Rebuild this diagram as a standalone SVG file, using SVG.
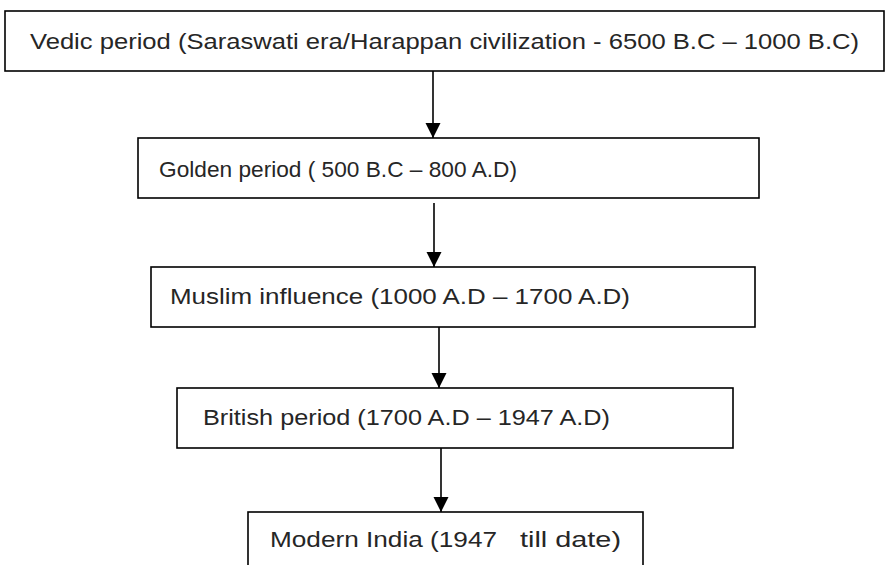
<svg xmlns="http://www.w3.org/2000/svg" width="886" height="565" viewBox="0 0 886 565">
<style>
.box{fill:#fff;stroke:#000;stroke-width:1.6}
.lbl{font-family:"Liberation Sans",Arial,sans-serif;font-size:22px;fill:#262626}
.conn{stroke:#000;stroke-width:1.6;fill:none;marker-end:url(#ah)}
</style>
<defs>
<marker id="ah" markerUnits="userSpaceOnUse" markerWidth="15" markerHeight="16" refX="15" refY="7.5" orient="auto" viewBox="0 0 15 15">
<path d="M0,0 L15,7.5 L0,15 z" fill="#000"/>
</marker>
</defs>
<rect width="886" height="565" fill="#fff"/>
<g id="connectors">
<line class="conn" x1="433" y1="71" x2="433" y2="138"/>
<line class="conn" x1="434" y1="203" x2="434" y2="267"/>
<line class="conn" x1="439" y1="324" x2="439" y2="388"/>
<line class="conn" x1="441" y1="445" x2="441" y2="512"/>
</g>
<g id="vedic">
<rect class="box" x="5" y="11" width="879" height="60"/>
<text class="lbl" x="30" y="49" textLength="829" lengthAdjust="spacingAndGlyphs">Vedic period (Saraswati era/Harappan civilization - 6500 B.C – 1000 B.C)</text>
</g>
<g id="golden">
<rect class="box" x="138" y="138" width="621" height="60"/>
<text class="lbl" x="159" y="177" textLength="358" lengthAdjust="spacingAndGlyphs">Golden period ( 500 B.C – 800 A.D)</text>
</g>
<g id="muslim">
<rect class="box" x="151" y="267" width="604" height="60"/>
<text class="lbl" x="170" y="304" textLength="460" lengthAdjust="spacingAndGlyphs">Muslim influence (1000 A.D – 1700 A.D)</text>
</g>
<g id="british">
<rect class="box" x="177" y="388" width="556" height="60"/>
<text class="lbl" x="203" y="425" textLength="407" lengthAdjust="spacingAndGlyphs">British period (1700 A.D – 1947 A.D)</text>
</g>
<g id="modern">
<rect class="box" x="248" y="512" width="395" height="70"/>
<text class="lbl" y="547"><tspan x="270" textLength="227" lengthAdjust="spacingAndGlyphs">Modern India (1947</tspan><tspan x="520" textLength="101" lengthAdjust="spacingAndGlyphs">till date)</tspan></text>
</g>
</svg>
